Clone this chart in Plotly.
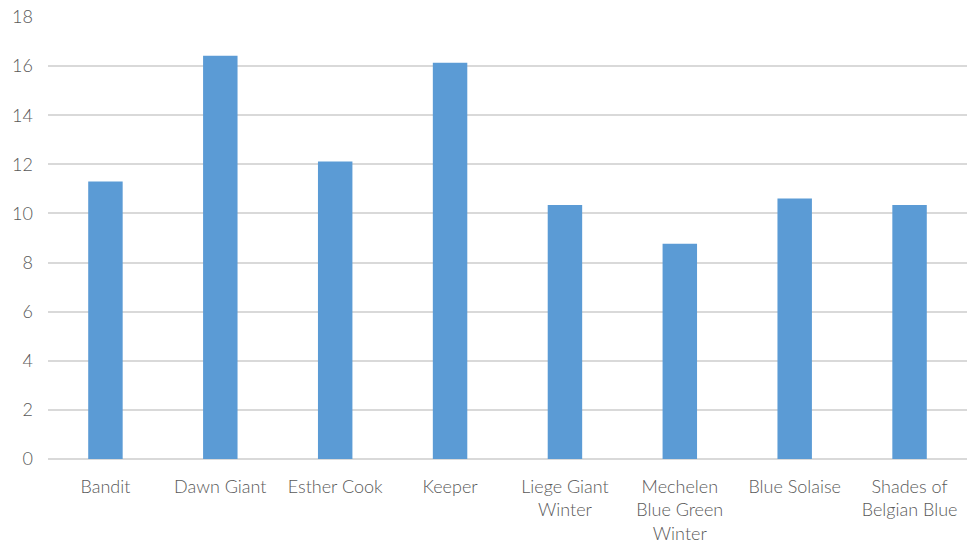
import plotly.graph_objects as go

varieties = ["Bandit", "Dawn Giant", "Esther Cook", "Keeper", "Liege Giant<br>Winter",
             "Mechelen<br>Blue Green<br>Winter", "Blue Solaise", "Shades of<br>Belgian Blue"]
values = [11.3, 16.42, 12.12, 16.14, 10.34, 8.77, 10.61, 10.34]
y_ticks = [0, 2, 4, 6, 8, 10, 12, 14, 16, 18]

fig = go.Figure(go.Bar(
    x=varieties, y=values,
    marker=dict(color="#5B9BD5", line=dict(width=0)),
))

fig.update_layout(
    width=974, height=542,
    margin=dict(l=48, r=7, t=17, b=83),
    plot_bgcolor="white", paper_bgcolor="white",
    bargap=0.7, showlegend=False,
    font=dict(family="Lato", size=18, color="#595959", weight=300),
)
fig.update_yaxes(range=[0, 18], tickvals=y_ticks, showgrid=True, gridcolor="#D9D9D9",
                 gridwidth=1.5, zeroline=True, zerolinecolor="#D9D9D9", zerolinewidth=1.5,
                 ticks="", ticklabelstandoff=14, showline=False, automargin=False)
fig.update_xaxes(showgrid=False, ticks="", showline=False, tickangle=0, ticklabelstandoff=15,
                 automargin=False)

fig.write_html("out.html")
